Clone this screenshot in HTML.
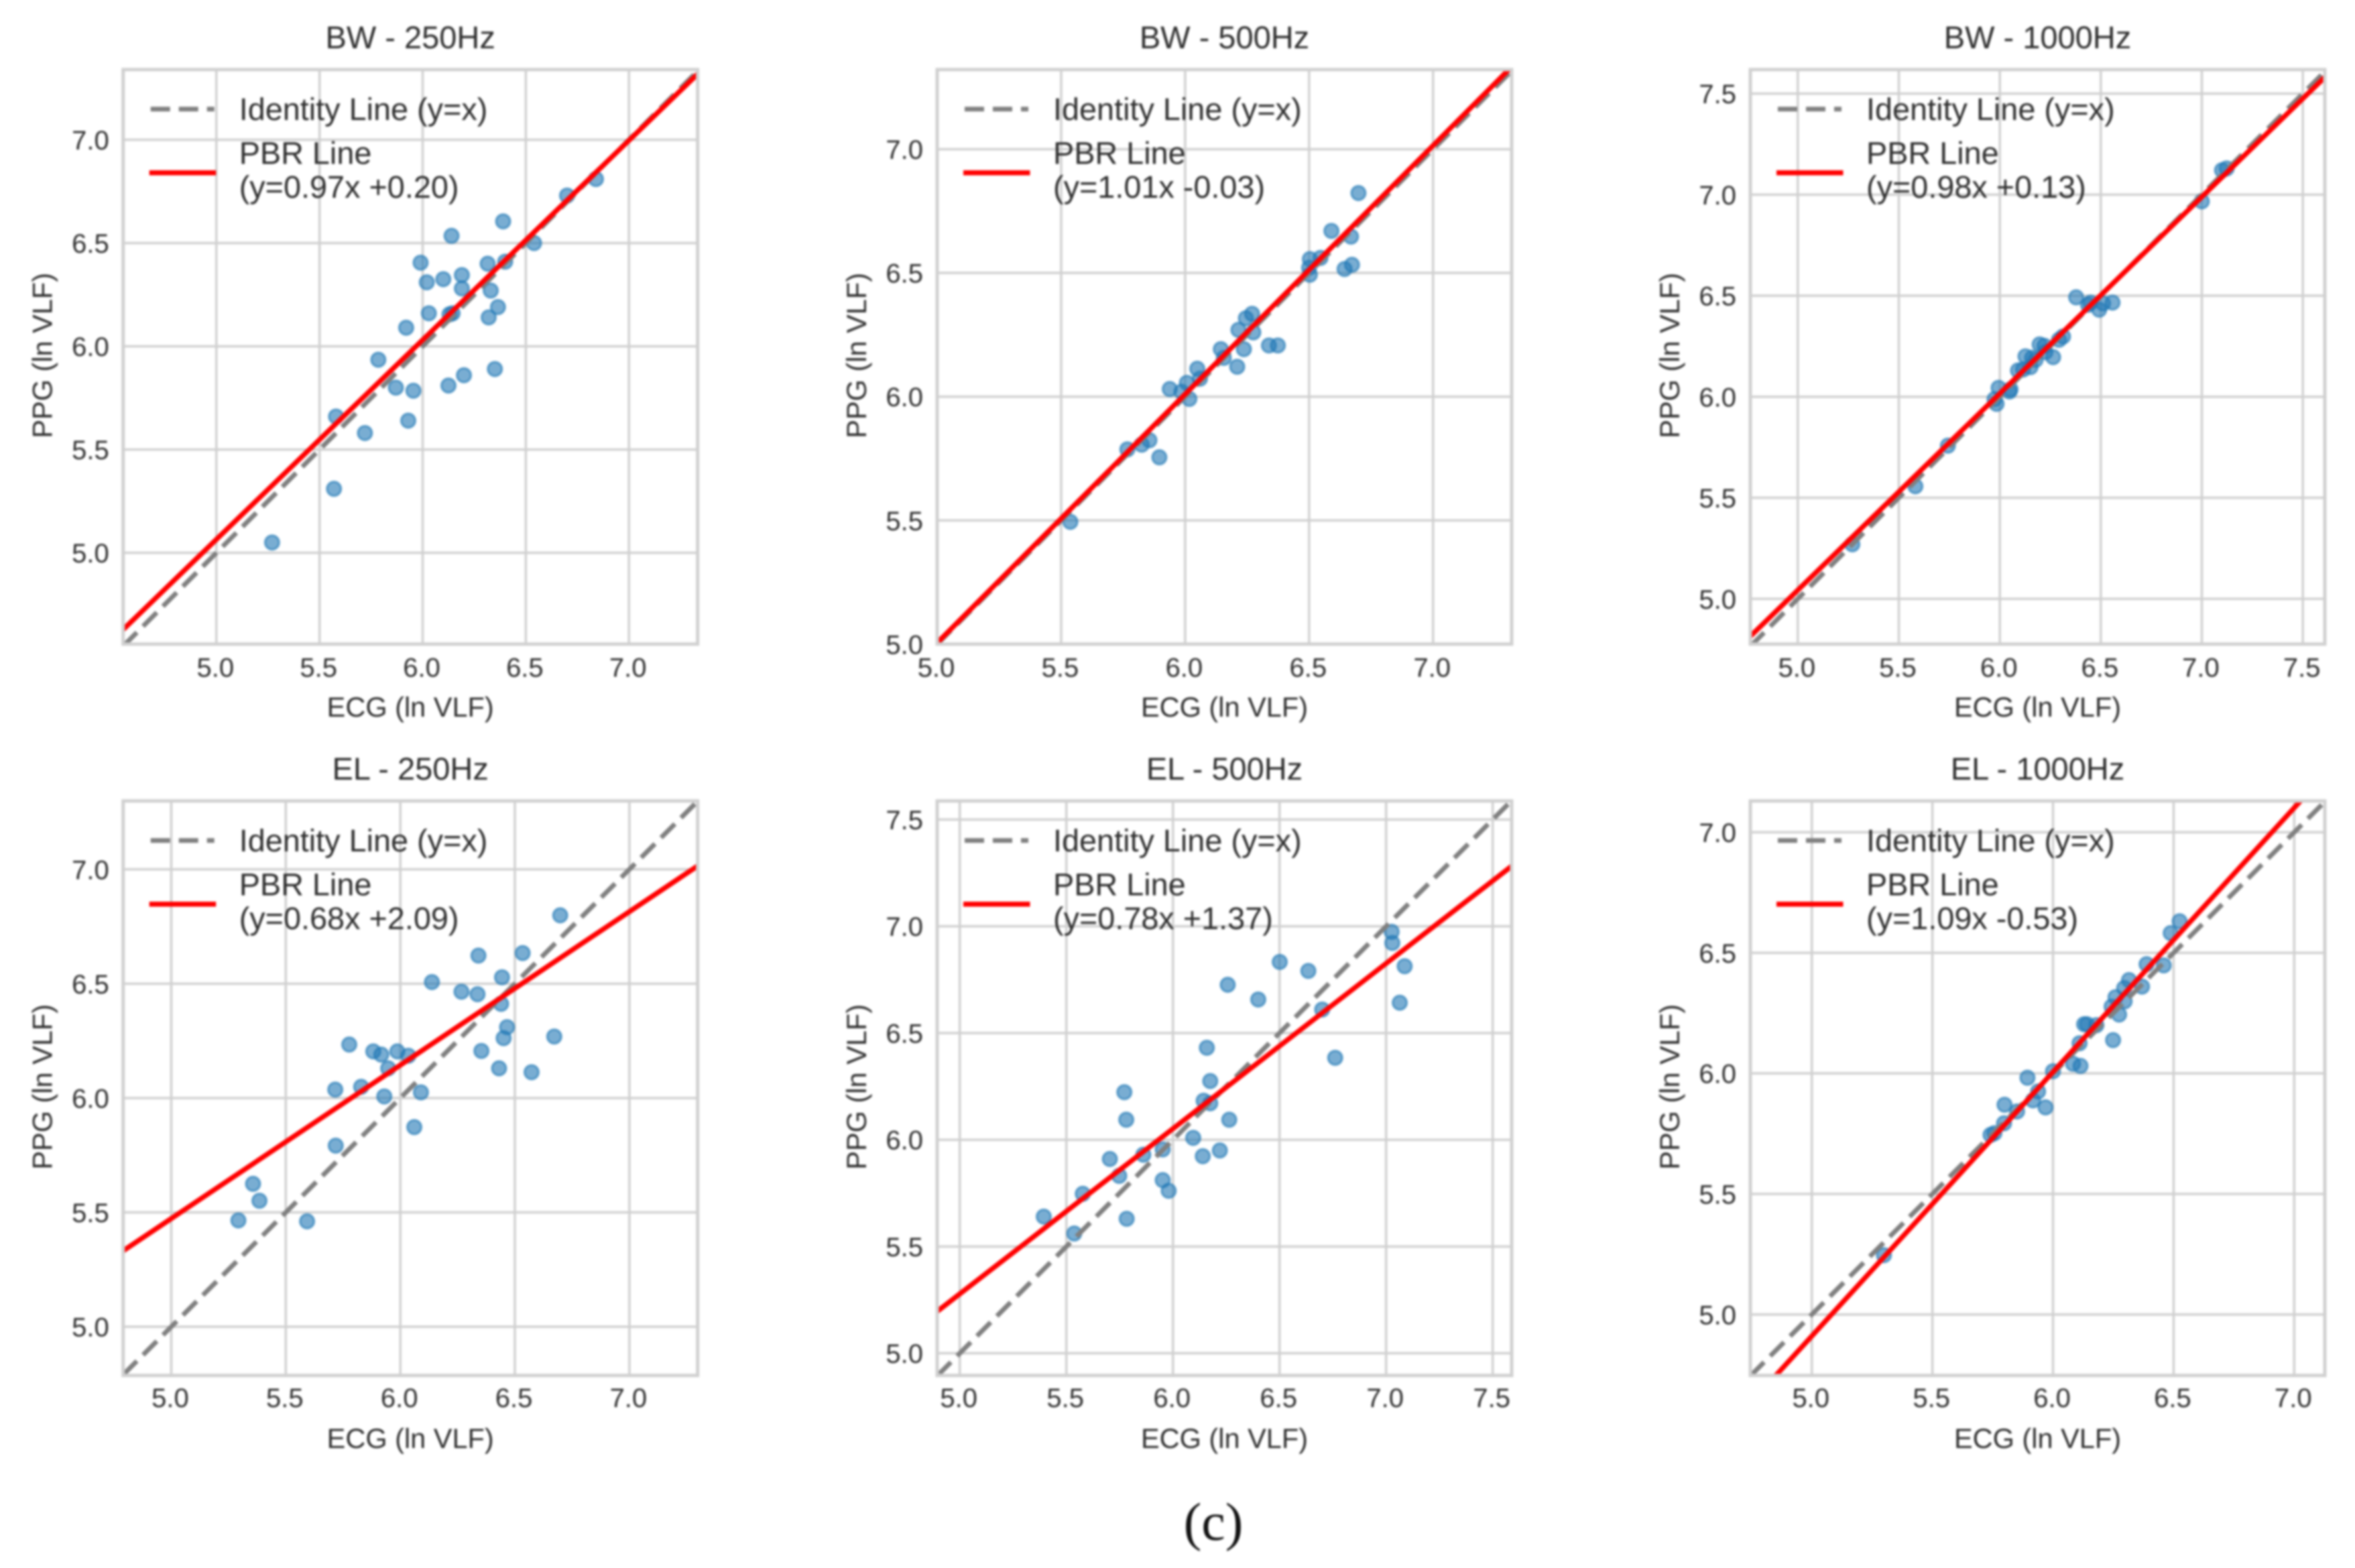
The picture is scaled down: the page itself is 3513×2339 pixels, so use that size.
<!DOCTYPE html>
<html lang="en">
<head>
<meta charset="utf-8">
<title>ECG vs PPG VLF scatter panels</title>
<style>
  html, body { margin: 0; padding: 0; background: #ffffff; }
  #figure { display: block; width: 3513px; height: 2339px; filter: blur(1.5px); }
  text { font-family: "Liberation Sans", Arial, sans-serif; fill: #2e2e2e; text-rendering: geometricPrecision; }
  #figure-caption { font-family: "Liberation Serif", "Times New Roman", serif; fill: #111111; }
</style>
</head>
<body>
<svg id="figure" xmlns="http://www.w3.org/2000/svg" width="3513" height="2339" viewBox="0 0 3513 2339">
  <rect x="0" y="0" width="3513" height="2339" fill="#ffffff"></rect>
  <text id="figure-caption" x="1810" y="2297" font-size="80" text-anchor="middle">(c)</text>
</svg>
<script>
// Panel titles and axis titles
const panelTitles = ["BW - 250Hz", "BW - 500Hz", "BW - 1000Hz", "EL - 250Hz", "EL - 500Hz", "EL - 1000Hz"];
const xAxisTitle = "ECG (ln VLF)";
const yAxisTitle = "PPG (ln VLF)";
const identityLabel = "Identity Line (y=x)";
const pbrLabelTop = "PBR Line";
const pbrEquations = ["(y=0.97x +0.20)", "(y=1.01x -0.03)", "(y=0.98x +0.13)", "(y=0.68x +2.09)", "(y=0.78x +1.37)", "(y=1.09x -0.53)"];

// Fitted PBR lines
const pbrSlopes = [0.966, 1.005, 0.973, 0.671, 0.774, 1.0955];
const pbrIntercepts = [0.235, -0.02, 0.178, 2.118, 1.408, -0.567];

// Axis limits
const xLimits = [[4.548, 7.333], [5.0, 7.317], [4.765, 7.609], [4.79, 7.298], [4.894, 7.589], [4.745, 7.127]];
const yLimits = [[4.558, 7.34], [5.0, 7.322], [4.776, 7.619], [4.787, 7.299], [4.896, 7.587], [4.747, 7.13]];

// Tick labels
const ticksTo7 = ["5.0", "5.5", "6.0", "6.5", "7.0"];
const ticksTo75 = ["5.0", "5.5", "6.0", "6.5", "7.0", "7.5"];
const panelTicks = [ticksTo7, ticksTo7, ticksTo75, ticksTo7, ticksTo75, ticksTo7];

// Scatter data
const bw250Ecg = [5.27, 5.57, 5.58, 5.72, 5.785, 5.87, 5.955, 5.93, 5.92, 5.99, 6.02, 6.03, 6.10, 6.125, 6.20, 6.35, 6.13, 6.145, 6.14, 6.19, 6.19, 6.315, 6.40, 6.33, 6.32, 6.365, 6.39, 6.54, 6.70, 6.84];
const bw250Ppg = [5.05, 5.31, 5.66, 5.58, 5.935, 5.80, 5.785, 5.64, 6.09, 6.405, 6.31, 6.16, 6.325, 5.81, 5.86, 5.89, 6.155, 6.16, 6.535, 6.345, 6.28, 6.40, 6.41, 6.27, 6.14, 6.19, 6.605, 6.50, 6.73, 6.81];

const bw500Ecg = [5.537, 5.767, 5.825, 5.856, 5.896, 5.938, 6.007, 6.017, 5.985, 6.049, 6.06, 6.144, 6.156, 6.21, 6.237, 6.215, 6.245, 6.27, 6.275, 6.338, 6.374, 6.5, 6.503, 6.503, 6.546, 6.59, 6.643, 6.673, 6.669, 6.699];
const bw500Ppg = [5.494, 5.787, 5.806, 5.824, 5.755, 6.031, 6.056, 5.991, 6.02, 6.113, 6.073, 6.192, 6.157, 6.121, 6.192, 6.27, 6.317, 6.335, 6.26, 6.207, 6.207, 6.521, 6.556, 6.493, 6.561, 6.67, 6.516, 6.533, 6.647, 6.823];

const bw1000Ecg = [5.27, 5.582, 5.743, 5.984, 5.974, 5.994, 6.048, 6.053, 6.09, 6.115, 6.127, 6.152, 6.16, 6.177, 6.197, 6.221, 6.226, 6.264, 6.293, 6.313, 6.378, 6.437, 6.449, 6.492, 6.511, 6.558, 7.0, 7.10, 7.123];
const bw1000Ppg = [5.27, 5.557, 5.758, 5.965, 5.988, 6.044, 6.026, 6.037, 6.13, 6.135, 6.20, 6.147, 6.193, 6.182, 6.259, 6.252, 6.221, 6.196, 6.282, 6.298, 6.492, 6.455, 6.466, 6.431, 6.462, 6.466, 6.967, 7.121, 7.13];

const el250Ecg = [5.293, 5.357, 5.385, 5.593, 5.716, 5.718, 5.777, 5.829, 5.882, 5.917, 5.93, 5.947, 5.987, 6.035, 6.061, 6.09, 6.138, 6.267, 6.337, 6.341, 6.354, 6.431, 6.44, 6.444, 6.451, 6.466, 6.534, 6.573, 6.672, 6.698];
const el250Ppg = [5.465, 5.625, 5.551, 5.461, 6.037, 5.792, 6.234, 6.049, 6.204, 6.19, 6.007, 6.13, 6.204, 6.185, 5.873, 6.025, 6.507, 6.465, 6.454, 6.623, 6.206, 6.13, 6.412, 6.528, 6.262, 6.31, 6.634, 6.113, 6.269, 6.799];

const el500Ecg = [5.394, 5.537, 5.577, 5.704, 5.748, 5.783, 5.772, 5.781, 5.861, 5.952, 5.952, 5.98, 6.095, 6.14, 6.144, 6.175, 6.175, 6.159, 6.22, 6.264, 6.257, 6.40, 6.501, 6.635, 6.70, 6.761, 7.026, 7.029, 7.064, 7.087];
const el500Ppg = [5.64, 5.561, 5.747, 5.91, 5.831, 5.63, 6.223, 6.094, 5.93, 5.955, 5.811, 5.761, 6.009, 5.923, 6.183, 6.171, 6.275, 6.431, 5.95, 6.094, 6.726, 6.657, 6.833, 6.791, 6.61, 6.384, 6.974, 6.922, 6.642, 6.813];

const el1000Ecg = [5.299, 5.741, 5.757, 5.797, 5.799, 5.851, 5.894, 5.917, 5.938, 5.969, 6.0, 6.083, 6.114, 6.11, 6.129, 6.141, 6.18, 6.249, 6.243, 6.259, 6.274, 6.297, 6.295, 6.315, 6.369, 6.388, 6.459, 6.488, 6.525];
const el1000Ppg = [5.246, 5.745, 5.752, 5.793, 5.87, 5.842, 5.982, 5.888, 5.925, 5.859, 6.009, 6.04, 6.031, 6.125, 6.204, 6.204, 6.2, 6.138, 6.277, 6.316, 6.244, 6.299, 6.354, 6.387, 6.36, 6.453, 6.448, 6.582, 6.631];

const ecgSeries = [bw250Ecg, bw500Ecg, bw1000Ecg, el250Ecg, el500Ecg, el1000Ecg];
const ppgSeries = [bw250Ppg, bw500Ppg, bw1000Ppg, el250Ppg, el500Ppg, el1000Ppg];

const SVG_NS = "http://www.w3.org/2000/svg";
const figure = document.getElementById("figure");
const caption = document.getElementById("figure-caption");
const columnLefts = [183.7, 1398, 2611];
const rowTops = [103.8, 1194.8];
const axesSize = 857;

function svgEl(tag, attrs, parent) {
  const el = document.createElementNS(SVG_NS, tag);
  for (const key in attrs) el.setAttribute(key, attrs[key]);
  parent.appendChild(el);
  return el;
}

panelTitles.forEach(function (title, p) {
  const left = columnLefts[p % 3];
  const top = rowTops[Math.floor(p / 3)];
  const right = left + axesSize;
  const bottom = top + axesSize;
  const xLim = xLimits[p];
  const yLim = yLimits[p];
  const tickDrop = p < 3 ? 48.5 : 47;
  const xScale = function (v) { return left + (v - xLim[0]) / (xLim[1] - xLim[0]) * axesSize; };
  const yScale = function (v) { return bottom - (v - yLim[0]) / (yLim[1] - yLim[0]) * axesSize; };
  const slug = title.toLowerCase().replace(/ - /, "-");

  const panel = svgEl("g", {}, figure);
  
  
  figure.insertBefore(panel, caption);

  const clip = svgEl("clipPath", { id: "clip-" + p }, panel);
  svgEl("rect", { x: left, y: top, width: axesSize, height: axesSize }, clip);

  // Grid and tick labels
  panelTicks[p].forEach(function (label) {
    const value = parseFloat(label);
    const gx = xScale(value);
    const gy = yScale(value);

    const vLine = svgEl("line", { x1: gx, x2: gx, y1: top, y2: bottom, stroke: "#d0d0d0", "stroke-width": 3.5 }, panel);
    
    

    const hLine = svgEl("line", { x1: left, x2: right, y1: gy, y2: gy, stroke: "#d0d0d0", "stroke-width": 3.5 }, panel);
    
    

    if (value <= xLim[1]) {
      const xTick = svgEl("text", { x: gx - 1.5, y: bottom + tickDrop, "font-size": 40, "text-anchor": "middle" }, panel);
      xTick.textContent = label;
      
      
    }
    if (value <= yLim[1]) {
      const yTick = svgEl("text", { x: left - 21, y: gy + 14.5, "font-size": 40, "text-anchor": "end" }, panel);
      yTick.textContent = label;
      
      
    }
  });

  // Scatter points
  const points = svgEl("g", { "clip-path": "url(#clip-" + p + ")" }, panel);
  
  
  ecgSeries[p].forEach(function (ecg, i) {
    const dot = svgEl("circle", {
      cx: xScale(ecg), cy: yScale(ppgSeries[p][i]), r: 10.5,
      fill: "#1f77b4", "fill-opacity": 0.6,
      stroke: "#1f77b4", "stroke-opacity": 0.62, "stroke-width": 3.2
    }, points);
    
    
  });

  // Identity and PBR lines
  const lines = svgEl("g", { "clip-path": "url(#clip-" + p + ")" }, panel);
  
  
  const identityLine = svgEl("line", {
    x1: xScale(xLim[0]), y1: yScale(xLim[0]), x2: xScale(xLim[1]), y2: yScale(xLim[1]),
    stroke: "#808080", "stroke-width": 7, "stroke-dasharray": "29 13"
  }, lines);
  
  

  const pbrLine = svgEl("line", {
    x1: xScale(xLim[0]), y1: yScale(pbrSlopes[p] * xLim[0] + pbrIntercepts[p]),
    x2: xScale(xLim[1]), y2: yScale(pbrSlopes[p] * xLim[1] + pbrIntercepts[p]),
    stroke: "#ff0000", "stroke-width": 7.5
  }, lines);
  
  

  // Axes frame
  const frame = svgEl("rect", { x: left, y: top, width: axesSize, height: axesSize, fill: "none", stroke: "#d0d0d0", "stroke-width": 5 }, panel);
  
  

  // Titles
  const titleText = svgEl("text", { x: left + axesSize / 2, y: top - 32, "font-size": 47, "text-anchor": "middle" }, panel);
  titleText.textContent = title;
  
  

  const xTitle = svgEl("text", { x: left + axesSize / 2, y: bottom + 108, "font-size": 41.5, "text-anchor": "middle" }, panel);
  xTitle.textContent = xAxisTitle;
  
  

  const yLabelX = left - 106;
  const yLabelY = top + axesSize / 2 - 2;
  const yTitle = svgEl("text", { x: yLabelX, y: yLabelY, "font-size": 41.5, "text-anchor": "middle", transform: "rotate(-90 " + yLabelX + " " + yLabelY + ")" }, panel);
  yTitle.textContent = yAxisTitle;
  
  

  // Legend
  const legend = svgEl("g", {}, panel);
  
  

  const identitySwatch = svgEl("line", { x1: left + 41, x2: left + 136, y1: top + 59, y2: top + 59, stroke: "#808080", "stroke-width": 7, "stroke-dasharray": "29 13" }, legend);
  
  

  const identityText = svgEl("text", { x: left + 173, y: top + 75, "font-size": 46.8 }, legend);
  identityText.textContent = identityLabel;
  
  

  const pbrSwatch = svgEl("line", { x1: left + 39, x2: left + 138.5, y1: top + 154, y2: top + 154, stroke: "#ff0000", "stroke-width": 7.5 }, legend);
  
  

  const pbrText = svgEl("text", { x: left + 173, y: top + 140.5, "font-size": 46.8 }, legend);
  pbrText.textContent = pbrLabelTop;
  
  

  const pbrEquation = svgEl("text", { x: left + 173, y: top + 191, "font-size": 46.8 }, legend);
  pbrEquation.textContent = pbrEquations[p];
  
  
});
</script>
</body>
</html>
